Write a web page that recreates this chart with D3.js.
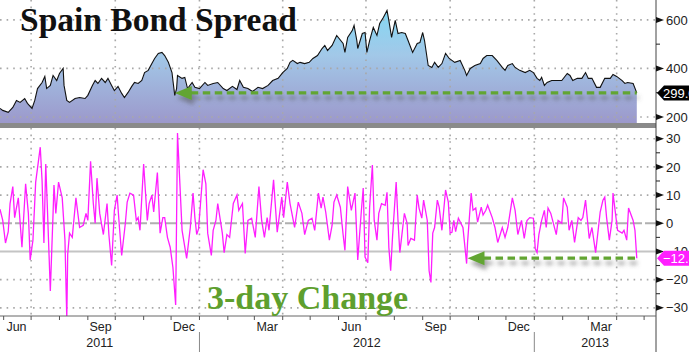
<!DOCTYPE html>
<html>
<head>
<meta charset="utf-8">
<style>
  body { margin: 0; background: #fff; }
  svg { display: block; }
</style>
</head>
<body>
<svg width="689" height="352"></svg>

<script src="https://d3js.org/d3.v7.min.js"></script>
<script>

	// Spain 10y bond spread (bp) and its 3-day change

	const spreadSeries = [
		["2011-05-28",235],["2011-05-31",227],["2011-06-06",219],["2011-06-11",239],["2011-06-15",268],["2011-06-19",260],
		["2011-06-24",276],["2011-06-27",256],["2011-07-02",235],["2011-07-05",268],["2011-07-08",317],["2011-07-13",342],
		["2011-07-16",367],["2011-07-18",317],["2011-07-22",330],["2011-07-25",371],["2011-07-29",350],["2011-08-01",379],
		["2011-08-05",400],["2011-08-06",330],["2011-08-09",268],["2011-08-12",260],["2011-08-18",276],["2011-08-23",280],
		["2011-08-29",276],["2011-09-01",289],["2011-09-06",330],["2011-09-09",350],["2011-09-12",338],["2011-09-16",359],
		["2011-09-20",342],["2011-09-23",359],["2011-09-27",330],["2011-09-30",309],["2011-10-04",326],["2011-10-08",297],
		["2011-10-11",280],["2011-10-15",301],["2011-10-19",326],["2011-10-22",342],["2011-10-26",338],["2011-10-30",350],
		["2011-11-02",383],["2011-11-06",392],["2011-11-10",420],["2011-11-13",441],["2011-11-17",462],["2011-11-21",466],
		["2011-11-24",453],["2011-11-28",425],["2011-12-02",383],["2011-12-03",350],["2011-12-05",289],["2011-12-07",317],
		["2011-12-08",371],["2011-12-13",359],["2011-12-16",363],["2011-12-19",317],["2011-12-24",342],["2011-12-27",322],
		["2012-01-01",317],["2012-01-07",342],["2012-01-10",330],["2012-01-16",338],["2012-01-21",342],["2012-01-27",317],
		["2012-01-31",309],["2012-02-06",326],["2012-02-11",313],["2012-02-14",350],["2012-02-18",322],["2012-02-23",317],
		["2012-02-28",305],["2012-03-05",322],["2012-03-10",317],["2012-03-16",330],["2012-03-21",350],["2012-03-27",359],
		["2012-04-01",383],["2012-04-06",400],["2012-04-09",425],["2012-04-12",433],["2012-04-17",420],["2012-04-20",425],
		["2012-04-25",420],["2012-04-30",425],["2012-05-04",441],["2012-05-09",453],["2012-05-14",482],["2012-05-17",495],
		["2012-05-20",474],["2012-05-25",495],["2012-05-30",536],["2012-06-06",503],["2012-06-08",466],["2012-06-11",528],
		["2012-06-16",556],["2012-06-18",577],["2012-06-21",515],["2012-06-22",482],["2012-06-27",544],["2012-06-30",548],
		["2012-07-02",466],["2012-07-05",515],["2012-07-09",569],["2012-07-13",536],["2012-07-16",585],["2012-07-20",610],
		["2012-07-24",639],["2012-07-26",598],["2012-07-29",528],["2012-08-02",598],["2012-08-05",544],["2012-08-09",548],
		["2012-08-13",544],["2012-08-16",515],["2012-08-21",466],["2012-08-26",503],["2012-08-29",507],["2012-09-01",548],
		["2012-09-03",515],["2012-09-07",412],["2012-09-11",404],["2012-09-14",425],["2012-09-18",404],["2012-09-22",420],
		["2012-09-26",462],["2012-09-30",441],["2012-10-06",425],["2012-10-12",433],["2012-10-17",392],["2012-10-19",371],
		["2012-10-23",400],["2012-10-28",412],["2012-11-03",420],["2012-11-06",441],["2012-11-10",453],["2012-11-16",453],
		["2012-11-21",433],["2012-11-27",404],["2012-11-30",392],["2012-12-03",412],["2012-12-08",420],["2012-12-11",404],
		["2012-12-16",392],["2012-12-22",383],["2012-12-27",392],["2012-12-31",383],["2013-01-04",359],["2013-01-07",350],
		["2013-01-09",363],["2013-01-12",330],["2013-01-15",342],["2013-01-20",350],["2013-01-26",350],["2013-01-31",350],
		["2013-02-06",379],["2013-02-09",371],["2013-02-12",350],["2013-02-17",359],["2013-02-22",359],["2013-02-26",383],
		["2013-03-01",359],["2013-03-05",359],["2013-03-10",322],["2013-03-14",322],["2013-03-19",359],["2013-03-25",359],
		["2013-03-28",375],["2013-04-01",367],["2013-04-07",350],["2013-04-10",338],["2013-04-13",342],["2013-04-19",338],
		["2013-04-23",299]
	]

	const changeSeries = [
		["2011-05-28",5],["2011-05-31",1],["2011-06-03",-7],["2011-06-06",-3],["2011-06-08",7],["2011-06-11",13],
		["2011-06-13",2],["2011-06-17",9],["2011-06-21",-8.5],["2011-06-25",14],["2011-06-28",3.5],["2011-06-30",-13],
		["2011-07-03",-6],["2011-07-06",14.6],["2011-07-11",27],["2011-07-13",15],["2011-07-15",-7],["2011-07-17",21],
		["2011-07-19",3.5],["2011-07-22",-24],["2011-07-25",3.5],["2011-07-26",13.6],["2011-07-28",3.5],["2011-07-31",14.6],
		["2011-08-04",9],["2011-08-07",-6],["2011-08-09",-34],["2011-08-10",-11],["2011-08-12",-3.5],["2011-08-15",-5],
		["2011-08-19",9],["2011-08-23",-1.5],["2011-08-27",-0.7],["2011-08-30",3.5],["2011-09-01",1],["2011-09-04",22],
		["2011-09-07",7],["2011-09-09",0],["2011-09-11",16],["2011-09-14",3.5],["2011-09-18",-4],["2011-09-22",7],
		["2011-09-24",-4],["2011-09-27",-15],["2011-09-30",4.6],["2011-10-03",10],["2011-10-05",1],["2011-10-08",-11.4],
		["2011-10-12",0],["2011-10-14",7.5],["2011-10-17",10.7],["2011-10-21",10],["2011-10-24",1],["2011-10-26",2],
		["2011-10-28",-2.5],["2011-11-01",21],["2011-11-05",1],["2011-11-07",7],["2011-11-10",10],["2011-11-12",4],
		["2011-11-16",18],["2011-11-19",-3.5],["2011-11-22",2],["2011-11-24",2],["2011-11-27",-5],["2011-11-30",-8.5],
		["2011-12-03",-15.7],["2011-12-06",-29],["2011-12-08",32],["2011-12-13",-2.5],["2011-12-16",-8.5],["2011-12-18",-12.5],
		["2011-12-22",-1.5],["2011-12-25",10.7],["2011-12-27",2],["2011-12-29",-4],["2011-12-31",-2],["2012-01-05",19],
		["2012-01-08",14],["2012-01-10",-3.5],["2012-01-14",-11.4],["2012-01-16",-2.5],["2012-01-19",1],["2012-01-21",7],
		["2012-01-26",-3.5],["2012-01-28",-10.4],["2012-01-31",-4],["2012-02-03",-5],["2012-02-07",7],["2012-02-11",10],
		["2012-02-13",4.6],["2012-02-17",7],["2012-02-20",-10.7],["2012-02-23",1],["2012-02-27",1.8],["2012-03-02",-5],
		["2012-03-06",13],["2012-03-09",1],["2012-03-12",-5],["2012-03-15",2],["2012-03-17",-2.5],["2012-03-22",15.4],
		["2012-03-26",-3.2],["2012-03-31",9.3],["2012-04-02",2],["2012-04-06",14.6],["2012-04-09",7],["2012-04-14",-1.5],
		["2012-04-18",7.5],["2012-04-22",3.5],["2012-04-25",-4],["2012-04-29",1],["2012-05-03",1.8],["2012-05-06",-2.5],
		["2012-05-10",10.7],["2012-05-13",5.4],["2012-05-15",9.3],["2012-05-18",4],["2012-05-22",-6],["2012-05-25",-0.7],
		["2012-05-27",7.5],["2012-05-30",10],["2012-06-03",5.7],["2012-06-06",-4],["2012-06-08",-9.6],["2012-06-11",13],
		["2012-06-15",4.6],["2012-06-19",10.7],["2012-06-22",-13],["2012-06-26",4.6],["2012-06-28",12.5],["2012-06-30",-12],
		["2012-07-03",-14],["2012-07-05",5.7],["2012-07-08",20.7],["2012-07-10",1],["2012-07-13",-6],["2012-07-15",3.5],
		["2012-07-18",7],["2012-07-22",6.4],["2012-07-24",11],["2012-07-26",-8.5],["2012-07-28",-16.8],["2012-07-30",-5],
		["2012-08-03",14.6],["2012-08-05",1],["2012-08-07",-10.4],["2012-08-12",3.5],["2012-08-15",0],["2012-08-16",-7.9],
		["2012-08-19",-5.4],["2012-08-23",-6],["2012-08-26",10],["2012-08-28",5.4],["2012-08-31",1.8],["2012-09-02",8.2],
		["2012-09-06",1],["2012-09-08",-16.8],["2012-09-10",-21],["2012-09-12",-3.5],["2012-09-14",-1.5],["2012-09-17",8.2],
		["2012-09-19",5.7],["2012-09-22",-2.5],["2012-09-26",11.8],["2012-09-29",7.5],["2012-10-01",-3.5],["2012-10-03",-3.2],
		["2012-10-05",1],["2012-10-07",-3],["2012-10-10",1.8],["2012-10-15",-1.5],["2012-10-19",-14.3],["2012-10-20",-7],
		["2012-10-24",10.7],["2012-10-26",4.6],["2012-10-29",5.4],["2012-10-31",0.4],["2012-11-04",5.7],["2012-11-06",2.9],
		["2012-11-09",4.6],["2012-11-11",6.4],["2012-11-16",2],["2012-11-19",-1.5],["2012-11-22",-6.8],["2012-11-27",-1.5],
		["2012-11-30",-5],["2012-12-03",-1.5],["2012-12-08",9],["2012-12-11",4.6],["2012-12-14",-4],["2012-12-18",1],
		["2012-12-21",-5.4],["2012-12-24",1],["2012-12-27",2],["2012-12-31",1.8],["2013-01-02",-9],["2013-01-04",-10.4],
		["2013-01-06",-4],["2013-01-09",1],["2013-01-12",4.6],["2013-01-14",-1.5],["2013-01-16",5.4],["2013-01-19",3.5],
		["2013-01-21",1],["2013-01-25",-4],["2013-01-27",1],["2013-01-31",0],["2013-02-02",9],["2013-02-06",5.7],
		["2013-02-08",-2.5],["2013-02-11",1],["2013-02-14",-6.8],["2013-02-18",2],["2013-02-21",1],["2013-02-23",2],
		["2013-02-26",8.2],["2013-03-02",-5.4],["2013-03-05",-1.5],["2013-03-09",-10.4],["2013-03-14",4],["2013-03-17",8.2],
		["2013-03-19",9.3],["2013-03-21",2],["2013-03-24",-6],["2013-03-27",1],["2013-03-28",10.7],["2013-03-30",5.4],
		["2013-04-02",-2.5],["2013-04-07",-3.5],["2013-04-09",-2.5],["2013-04-12",-6],["2013-04-14",5.4],["2013-04-19",1],
		["2013-04-21",-2.5],["2013-04-23",-12.4]
	]

	// axis ticks (300 sits under the last-value label, so it is only a small tick)
	const spreadTicks = [200, 400, 600]
	const spreadMinorTicks = [300, 500]
	const changeTicks = [-30, -20, -10, 0, 10, 20, 30]
	const changeMinorTicks = [-25, -15, -5, 5, 15, 25]
	const spreadGrid = [200, 400, 600]
	const changeGrid = [-30, -20, 10, 20, 30]
	const quarterMonths = ["Jun", "Sep", "Dec", "Mar"]

	// annotation arrows start at these dates and run to the last value
	const spreadArrowDate = "2011-12-05"
	const changeArrowDate = "2012-10-20"

	const titleText = "Spain Bond Spread"
	const subText = "3-day Change"

	// ----------------------------------

	const parse = d3.timeParse("%Y-%m-%d")
	const spread = spreadSeries.map(([d, v]) => ({date: parse(d), value: v}))
	const change = changeSeries.map(([d, v]) => ({date: parse(d), value: v}))

	const plotRight = 656
	const topBottom = 123
	const lowTop = 128, lowBottom = 316

	const x = d3.scaleTime()
		.domain([parse("2011-05-28"), parse("2013-05-14")])
		.range([0, plotRight])
	const ySpread = d3.scaleLinear().domain([175, 682]).range([topBottom, 0])
	const yChange = d3.scaleLinear().domain([-32.9, 33.8]).range([lowBottom, lowTop])

	const green = "#62a530"
	const magenta = "#ff1eff"
	const axisFont = "'Liberation Sans', Arial, sans-serif"

	const svg = d3.select("svg")
	const defs = svg.append("defs")

	// fill of the spread area: cyan at the top, lavender at the bottom
	const grad = defs.append("linearGradient")
		.attr("id", "spreadFill")
		.attr("gradientUnits", "userSpaceOnUse")
		.attr("x1", 0).attr("y1", 0).attr("x2", 0).attr("y2", topBottom)
	grad.append("stop").attr("offset", 0).attr("stop-color", "#7edcf6")
	grad.append("stop").attr("offset", 0.45).attr("stop-color", "#a2c8e8")
	grad.append("stop").attr("offset", 1).attr("stop-color", "#9c98cb")

	defs.append("clipPath").attr("id", "clipTop")
		.append("rect").attr("x", 0).attr("y", 0).attr("width", plotRight).attr("height", topBottom)
	defs.append("clipPath").attr("id", "clipLow")
		.append("rect").attr("x", 0).attr("y", lowTop).attr("width", plotRight).attr("height", lowBottom - lowTop)

	const shadow = defs.append("filter").attr("id", "shadow")
		.attr("x", "-10%").attr("y", "-100%").attr("width", "120%").attr("height", "400%")
	shadow.append("feDropShadow")
		.attr("dx", 2).attr("dy", 5).attr("stdDeviation", 2)
		.attr("flood-color", "#555").attr("flood-opacity", 0.55)

	// spread area
	svg.append("path")
		.datum(spread)
		.attr("clip-path", "url(#clipTop)")
		.attr("fill", "url(#spreadFill)")
		.attr("d", d3.area().x(d => x(d.date)).y0(topBottom).y1(d => ySpread(d.value)))

	// dotted grid
	const grid = svg.append("g")
		.attr("stroke", "#a8a8a8")
		.attr("stroke-width", 1.6)
		.attr("stroke-dasharray", "1.6,5")

	grid.selectAll(".hs").data(spreadGrid).join("line")
		.attr("x1", 0).attr("x2", plotRight)
		.attr("y1", d => ySpread(d)).attr("y2", d => ySpread(d))
	grid.selectAll(".hc").data(changeGrid).join("line")
		.attr("class", "hc")
		.attr("x1", 0).attr("x2", plotRight)
		.attr("y1", d => yChange(d)).attr("y2", d => yChange(d))

	const quarters = x.ticks(d3.timeMonth.every(3))
	grid.selectAll(".vt").data(quarters).join("line")
		.attr("class", "vt")
		.attr("x1", d => x(d)).attr("x2", d => x(d))
		.attr("y1", 0).attr("y2", topBottom)
	grid.selectAll(".vl").data(quarters).join("line")
		.attr("class", "vl")
		.attr("x1", d => x(d)).attr("x2", d => x(d))
		.attr("y1", lowTop).attr("y2", lowBottom)

	// zero line and -10 line
	svg.append("line")
		.attr("x1", 0).attr("x2", plotRight)
		.attr("y1", yChange(0)).attr("y2", yChange(0))
		.attr("stroke", "#b0b0b0").attr("stroke-width", 2)
		.attr("stroke-dasharray", "12,3")
	svg.append("line")
		.attr("x1", 0).attr("x2", plotRight)
		.attr("y1", yChange(-10)).attr("y2", yChange(-10))
		.attr("stroke", "#c4c4c4").attr("stroke-width", 2)

	// lines
	svg.append("path")
		.datum(spread)
		.attr("clip-path", "url(#clipTop)")
		.attr("fill", "none")
		.attr("stroke", "#111")
		.attr("stroke-width", 1.1)
		.attr("d", d3.line().x(d => x(d.date)).y(d => ySpread(d.value)))

	svg.append("path")
		.datum(change)
		.attr("clip-path", "url(#clipLow)")
		.attr("fill", "none")
		.attr("stroke", magenta)
		.attr("stroke-width", 1.3)
		.attr("d", d3.line().x(d => x(d.date)).y(d => yChange(d.value)))

	// separator between panels
	svg.append("rect")
		.attr("x", 0).attr("y", topBottom)
		.attr("width", plotRight).attr("height", lowTop - topBottom)
		.attr("fill", "#8a8a8a")

	// green dashed arrows pointing back in time
	function arrow(fromDate, lastPoint, y) {
		const tipX = x(parse(fromDate))
		const tipY = y(lastPoint.value)
		const g = svg.append("g").attr("filter", "url(#shadow)")
		g.append("line")
			.attr("x1", tipX + 16).attr("x2", x(lastPoint.date))
			.attr("y1", tipY).attr("y2", tipY)
			.attr("stroke", green).attr("stroke-width", 3.2)
			.attr("stroke-dasharray", "7.5,4.5")
		g.append("path")
			.attr("d", `M${tipX},${tipY} L${tipX + 17},${tipY - 7} L${tipX + 17},${tipY + 7} Z`)
			.attr("fill", green)
	}
	arrow(spreadArrowDate, spread[spread.length - 1], ySpread)
	arrow(changeArrowDate, change[change.length - 1], yChange)

	// right axis line
	svg.append("line")
		.attr("x1", plotRight).attr("x2", plotRight)
		.attr("y1", 0).attr("y2", 352)
		.attr("stroke", "#444").attr("stroke-width", 1)

	// right axis ticks: wedges for major, dashes for minor
	function rightAxis(scale, major, minor) {
		const g = svg.append("g")
		g.selectAll("path").data(major).join("path")
			.attr("d", d => `M${plotRight},${scale(d) - 3} L${plotRight + 8},${scale(d)} L${plotRight},${scale(d) + 3} Z`)
			.attr("fill", "#111")
		g.selectAll("line").data(minor).join("line")
			.attr("x1", plotRight).attr("x2", plotRight + 4)
			.attr("y1", d => scale(d)).attr("y2", d => scale(d))
			.attr("stroke", "#222")
		const labels = svg.append("g")
			.attr("transform", `translate(${plotRight},0)`)
			.call(d3.axisRight(scale).tickValues(major).tickSize(0).tickPadding(10))
		labels.select(".domain").remove()
		labels.selectAll("text")
			.attr("font-family", axisFont)
			.attr("font-size", 13)
			.attr("fill", "#222")
	}
	rightAxis(ySpread, spreadTicks, spreadMinorTicks)
	rightAxis(yChange, changeTicks, changeMinorTicks)

	// bottom axis: month ticks, quarter labels and years
	svg.append("line")
		.attr("x1", 0).attr("x2", plotRight)
		.attr("y1", lowBottom).attr("y2", lowBottom)
		.attr("stroke", "#666")

	const months = d3.timeMonth.range(x.domain()[0], x.domain()[1])
	svg.append("g").selectAll("line").data(months).join("line")
		.attr("x1", d => x(d)).attr("x2", d => x(d))
		.attr("y1", lowBottom).attr("y2", lowBottom + 4)
		.attr("stroke", "#555")

	const monthFmt = d3.timeFormat("%b")
	const labelled = months.filter(d => quarterMonths.includes(monthFmt(d)))
	svg.append("g").selectAll("text").data(labelled).join("text")
		.attr("x", d => x(d3.timeDay.offset(d, 14)))
		.attr("y", 331)
		.attr("text-anchor", "middle")
		.attr("font-family", axisFont)
		.attr("font-size", 12.5)
		.attr("fill", "#222")
		.text(d => monthFmt(d))

	const years = d3.timeYear.range(d3.timeYear.floor(x.domain()[0]), x.domain()[1])
	svg.append("g").selectAll("text").data(years).join("text")
		.attr("x", d => {
			const a = Math.max(0, x(d))
			const b = Math.min(plotRight, x(d3.timeYear.offset(d, 1)))
			return (a + b) / 2
		})
		.attr("y", 347)
		.attr("text-anchor", "middle")
		.attr("font-family", axisFont)
		.attr("font-size", 12.5)
		.attr("fill", "#222")
		.text(d => d.getFullYear())

	svg.append("g").selectAll("line").data(years.filter(d => x(d) > 0)).join("line")
		.attr("x1", d => x(d)).attr("x2", d => x(d))
		.attr("y1", 332).attr("y2", 352)
		.attr("stroke", "#888")

	// last value callouts, the label runs off the right edge as in the original
	const fmt = d3.format(".2f")
	function callout(last, scale, color) {
		const cy = scale(last.value)
		svg.append("path")
			.attr("d", `M${plotRight + 1},${cy} L${plotRight + 8},${cy - 7.5} L689,${cy - 7.5} L689,${cy + 7.5} L${plotRight + 8},${cy + 7.5} Z`)
			.attr("fill", color)
		svg.append("text")
			.attr("x", plotRight + 7)
			.attr("y", cy)
			.attr("dy", "0.36em")
			.attr("font-family", axisFont)
			.attr("font-size", 13)
			.attr("fill", "#fff")
			.text(fmt(last.value))
	}
	callout(spread[spread.length - 1], ySpread, "#000")
	callout(change[change.length - 1], yChange, magenta)

	// titles
	svg.append("text")
		.attr("x", 20).attr("y", 31)
		.attr("font-family", "'Liberation Serif', 'Times New Roman', serif")
		.attr("font-weight", "bold")
		.attr("font-size", 33.5)
		.attr("fill", "#111")
		.text(titleText)

	svg.append("text")
		.attr("x", 207).attr("y", 309)
		.attr("font-family", "'Liberation Serif', 'Times New Roman', serif")
		.attr("font-weight", "bold")
		.attr("font-size", 34)
		.attr("fill", "#5e9f2e")
		.text(subText)

</script>
</body>
</html>
